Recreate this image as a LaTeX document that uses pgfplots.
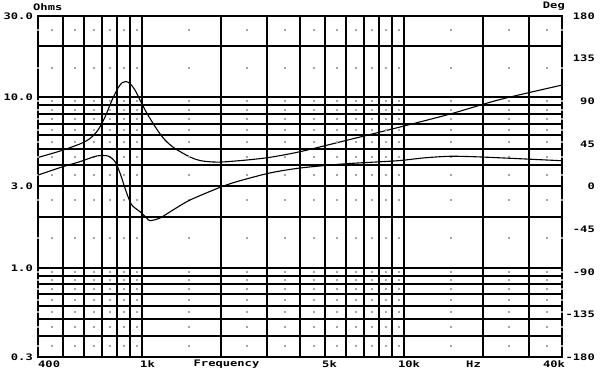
\documentclass[border=0pt]{standalone}
\usepackage{pgfplots}
\pgfplotsset{compat=1.18}
\usepackage{pgfplotstable}
\usepackage{fontspec}
\newfontfamily\chartfont{DejaVu Sans Mono}[FakeStretch=1.35]
\pgfplotstableread{
f z
400 4.44
485 4.84
578 5.33
632 5.74
678 6.44
721 7.67
767 9.65
808 11.35
840 12.22
867 12.38
898 12.05
938 11.04
980 9.65
1040 8.10
1135 6.52
1221 5.62
1333 5.01
1521 4.47
1661 4.26
1846 4.18
2032 4.18
2504 4.29
3072 4.45
4000 4.80
6205 5.66
9633 6.70
14945 7.98
23196 9.71
40000 11.8
}\impedance
\pgfplotstableread{
f p
400 12.1
498 20.9
578 26.2
670 32.2
740 32.2
787 26.2
822 14.3
872 -6.9
912 -19.5
980 -26.6
1040 -33.3
1070 -36.1
1168 -33.3
1310 -24.8
1521 -14.3
2010 -0.2
2362 6.1
3072 14.3
4000 19.5
5836 23.8
8080 26.1
9633 27.4
12000 30.3
14945 31.9
18620 31.4
25330 29.8
40000 27.2
}\phase
\pgfplotstableread{
y
0.35
0.45
0.55
0.65
0.75
0.85
0.95
1.5
2.5
3.5
4.5
5.5
6.5
7.5
8.5
9.5
15
25
}\dotrows
\begin{document}
\begin{tikzpicture}
\path[use as bounding box] (0bp,0bp) rectangle (600bp,386bp);
\begin{axis}[at={(38bp,29bp)}, anchor=south west, width=524bp, height=341bp, scale only axis,
  xmode=log, ymode=log, xmin=400, xmax=40000, ymin=0.3, ymax=30,
  xtick={500,600,700,800,900,1000,2000,3000,4000,5000,6000,7000,8000,9000,10000,20000,30000},
  ytick={0.4,0.5,0.6,0.7,0.8,0.9,1,2,3,4,5,6,7,8,9,10,20},
  xticklabels={}, yticklabels={},
  grid=major, major grid style={black, line width=2bp},
  tick style={draw=none}, minor tick num=0,
  axis line style={line width=2.2bp}]
\pgfplotsinvokeforeach{400,450,550,650,750,850,950,1500,2500,3500,4500,5500,6500,7500,8500,9500,15000,25000,35000,40000}{
  \addplot[only marks, mark=square*, mark size=0.5bp, gray!70, forget plot] table[x expr=#1, y=y]{\dotrows};
}
\addplot[black, line width=1.1bp, smooth, tension=0.5] table[x=f, y=z]{\impedance};
\end{axis}
\begin{axis}[at={(38bp,29bp)}, anchor=south west, width=524bp, height=341bp, scale only axis,
  xmode=log, xmin=400, xmax=40000, ymin=-180, ymax=180, hide axis]
\addplot[black, line width=1.1bp, smooth, tension=0.45] table[x=f, y=p]{\phase};
\end{axis}
\begin{scope}[every node/.style={font=\chartfont\bfseries\fontsize{9}{10}\selectfont, inner sep=0pt}]
\node[anchor=west] at (33bp,378.5bp) {Ohms};
\node[anchor=east] at (565bp,379.5bp) {Deg};
\node[anchor=east] at (33bp,370bp) {30.0};
\node[anchor=east] at (33bp,289bp) {10.0};
\node[anchor=east] at (33bp,199.5bp) {3.0};
\node[anchor=east] at (33bp,118.2bp) {1.0};
\node[anchor=east] at (33bp,29bp) {0.3};
\node[anchor=east] at (595bp,370bp) {180};
\node[anchor=east] at (595bp,327.4bp) {135};
\node[anchor=east] at (595bp,284.7bp) {90};
\node[anchor=east] at (595bp,242.1bp) {45};
\node[anchor=east] at (595bp,199.5bp) {0};
\node[anchor=east] at (595bp,157bp) {-45};
\node[anchor=east] at (595bp,114.2bp) {-90};
\node[anchor=east] at (595bp,71.6bp) {-135};
\node[anchor=east] at (595bp,29bp) {-180};
\node[anchor=west] at (38bp,22bp) {400};
\node at (147.5bp,22bp) {1k};
\node at (226.5bp,22bp) {Frequency};
\node at (329.5bp,22bp) {5k};
\node at (409bp,22bp) {10k};
\node at (473.5bp,22bp) {Hz};
\node at (554bp,22bp) {40k};
\end{scope}
\end{tikzpicture}
\end{document}
